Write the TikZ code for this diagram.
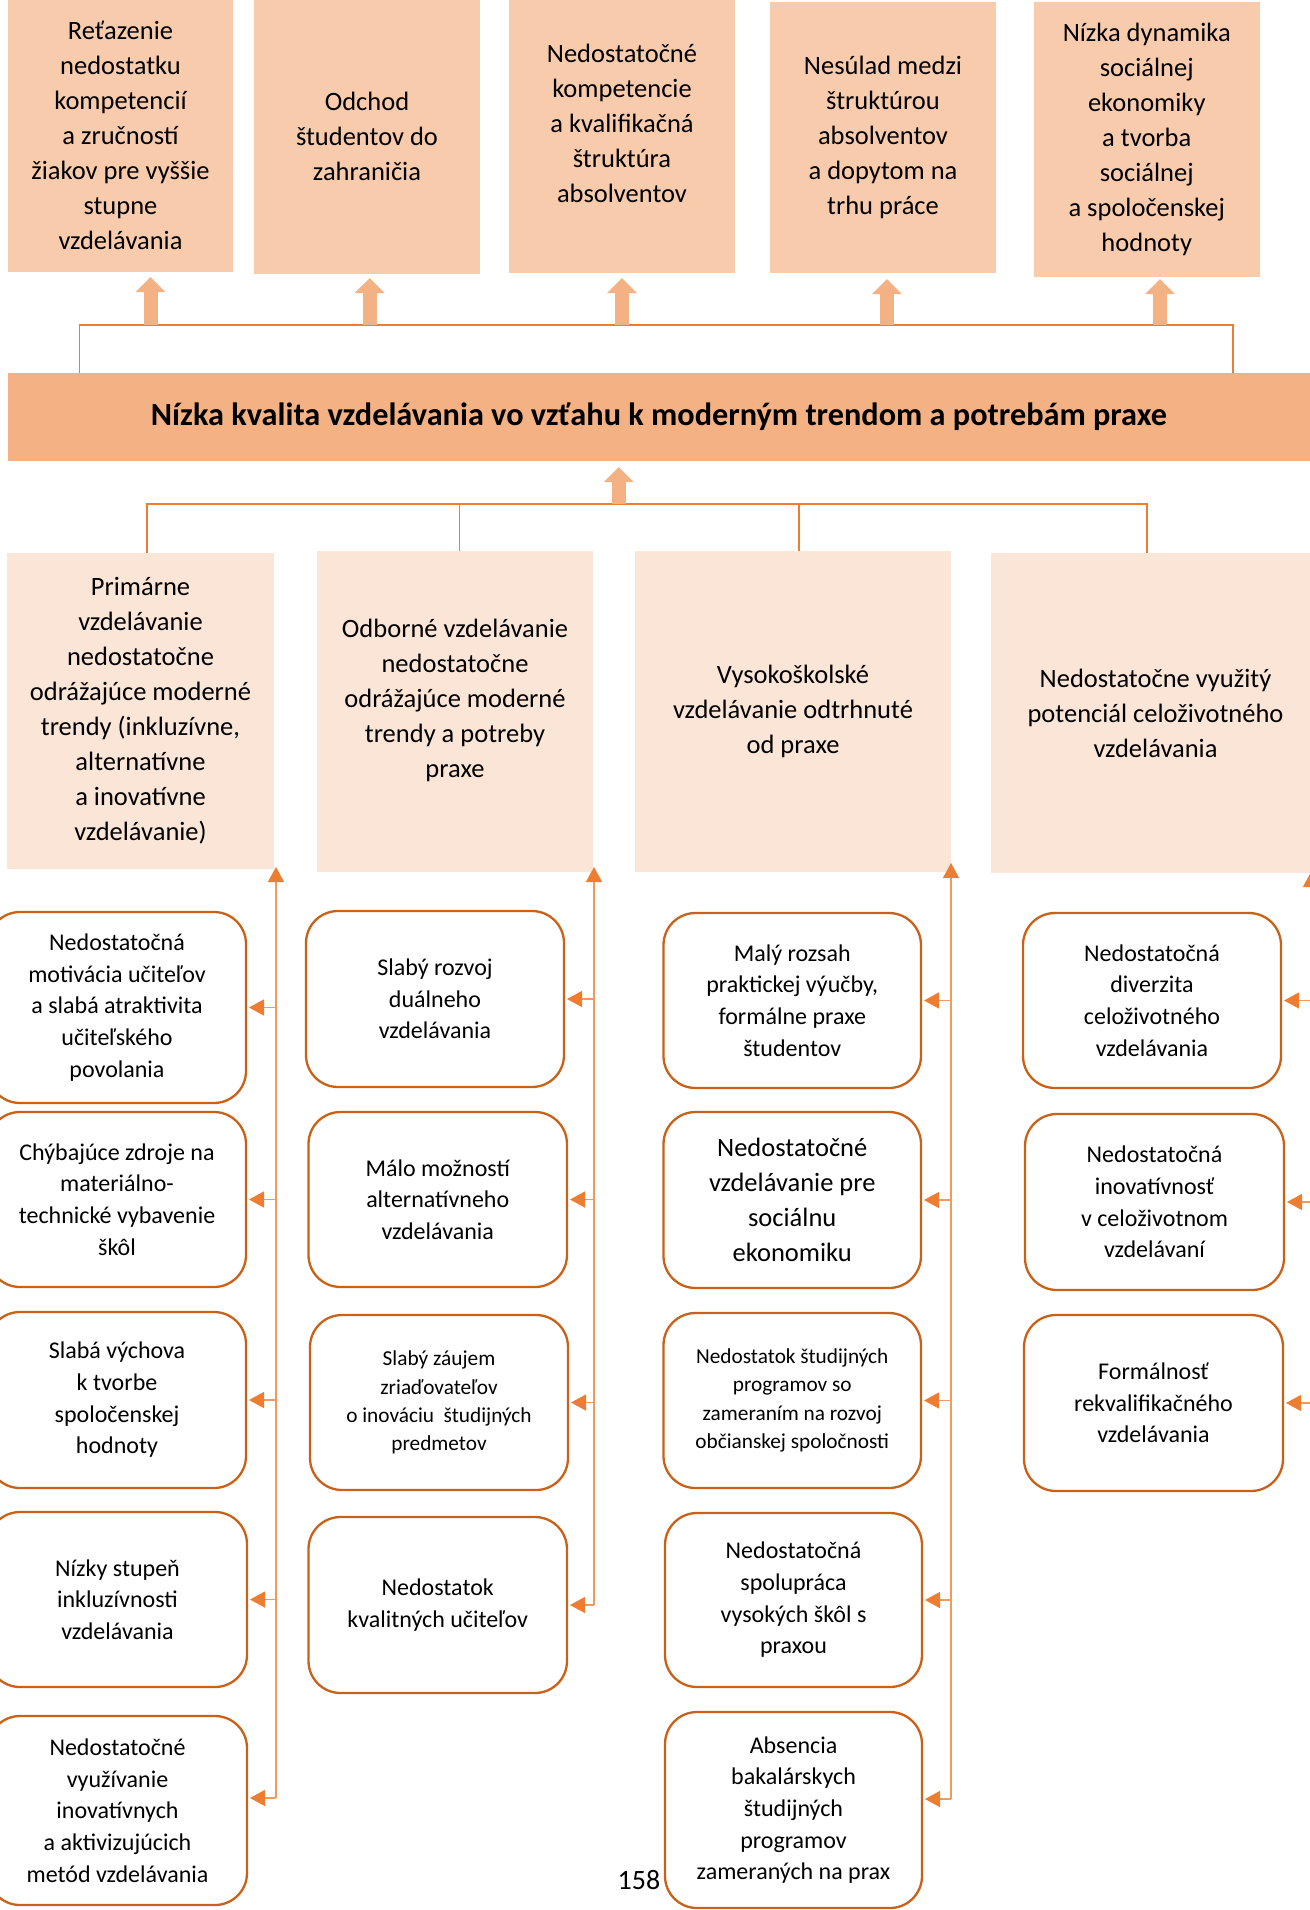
\documentclass[tikz,border=0pt]{standalone}
\usepackage{fontspec}
\setmainfont{Carlito}
\usetikzlibrary{arrows.meta,calc}
\definecolor{topfill}{HTML}{F8CBAD}
\definecolor{mainfill}{HTML}{F4B183}
\definecolor{lvltwo}{HTML}{FBE5D6}
\definecolor{accent}{HTML}{ED7D31}
\definecolor{linec}{HTML}{F09A5E}
\definecolor{border}{HTML}{C96218}
\tikzset{
  box/.style={inner sep=0pt, outer sep=0pt, align=center, text=black},
  topbox/.style={box, fill=topfill, font=\fontsize{26.5}{35}\selectfont},
  mainbox/.style={box, fill=mainfill, font=\bfseries\fontsize{32.3}{38}\selectfont},
  midbox/.style={box, fill=lvltwo, font=\fontsize{26.5}{35}\selectfont},
  leafbox/.style={box, draw=border, line width=2.3pt, fill=white, rounded corners=32pt, font=\fontsize{24}{31.7}\selectfont},
  smalltext/.style={font=\fontsize{21.3}{28.3}\selectfont},
  bigtext/.style={font=\fontsize{26.5}{35}\selectfont},
  link/.style={draw=accent, line width=1.4pt},
  fat/.style={draw=mainfill, line width=14pt, -{Triangle[width=29pt,length=15pt]}},
  colline/.style={draw=linec, line width=1.4pt, arrows={-{Triangle[width=16pt,length=15pt,color=accent]}}},
  sidearr/.style={draw=linec, line width=1.4pt, shorten >=3pt, arrows={-{Triangle[width=16pt,length=15pt,color=accent]}}}
}
\newcommand\mkbox[7]{\node[#1, minimum width={#4-(#3)}, minimum height={#6-(#5)}] (#2) at ({(#3+#4)/2},{(#5+#6)/2}) {#7};}
\begin{document}
\begin{tikzpicture}[x=1pt,y=-1pt]
\useasboundingbox (0,0) rectangle (1309,1910);
% top row
\mkbox{topbox}{t1}{8}{233}{-2}{272}{Reťazenie\\nedostatku\\kompetencií\\a zručností\\žiakov pre vyššie\\stupne\\vzdelávania}
\mkbox{topbox}{t2}{254}{480}{-2}{274}{Odchod\\študentov do\\zahraničia}
\mkbox{topbox}{t3}{509}{735}{-2}{273}{Nedostatočné\\kompetencie\\a kvalifikačná\\štruktúra\\absolventov\\[-10pt]\mbox{}}
\mkbox{topbox}{t4}{770}{996}{2}{273}{Nesúlad medzi\\štruktúrou\\absolventov\\a dopytom na\\trhu práce}
\mkbox{topbox}{t5}{1034}{1259.5}{2}{277}{Nízka dynamika\\sociálnej\\ekonomiky\\a tvorba\\sociálnej\\a spoločenskej\\hodnoty}
% main
\mkbox{mainbox}{m}{8}{1310}{373}{461}{Nízka kvalita vzdelávania vo vzťahu k moderným trendom a potrebám praxe}
% level 2
\mkbox{midbox}{b1}{7}{274}{553}{869}{Primárne\\vzdelávanie\\nedostatočne\\odrážajúce moderné\\trendy (inkluzívne,\\alternatívne\\a inovatívne\\vzdelávanie)}
\mkbox{midbox}{b2}{317}{593}{551}{872}{Odborné vzdelávanie\\nedostatočne\\odrážajúce moderné\\trendy a potreby\\praxe\\[-8pt]\mbox{}}
\mkbox{midbox}{b3}{635}{951}{551}{872}{Vysokoškolské\\vzdelávanie odtrhnuté\\od praxe}
\mkbox{midbox}{b4}{991}{1320}{553}{873}{Nedostatočne využitý\\potenciál celoživotného\\vzdelávania}
% level 3, column 1
\mkbox{leafbox}{c11}{-12}{246}{912}{1103}{Nedostatočná\\motivácia učiteľov\\a slabá atraktivita\\učiteľského\\povolania}
\mkbox{leafbox}{c12}{-12}{246}{1112}{1287}{Chýbajúce zdroje na\\materiálno-\\technické vybavenie\\škôl}
\mkbox{leafbox}{c13}{-12}{246}{1312}{1488}{Slabá výchova\\k tvorbe\\spoločenskej\\hodnoty}
\mkbox{leafbox}{c14}{-12}{247}{1512}{1687}{Nízky stupeň\\inkluzívnosti\\vzdelávania}
\mkbox{leafbox}{c15}{-12}{247}{1716}{1905}{Nedostatočné\\využívanie\\inovatívnych\\a aktivizujúcich\\metód vzdelávania}
% column 2
\mkbox{leafbox}{c21}{306}{564}{911}{1087}{Slabý rozvoj\\duálneho\\vzdelávania}
\mkbox{leafbox}{c22}{308.5}{567}{1112}{1287}{Málo možností\\alternatívneho\\vzdelávania}
\mkbox{leafbox,smalltext}{c23}{310}{568}{1315}{1490}{Slabý záujem\\zriaďovateľov\\o inováciu\ \ študijných\\predmetov}
\mkbox{leafbox}{c24}{308.5}{567}{1517}{1693}{Nedostatok\\kvalitných učiteľov}
% column 3
\mkbox{leafbox}{c31}{663.5}{921}{913}{1088}{Malý rozsah\\praktickej výučby,\\formálne praxe\\študentov}
\mkbox{leafbox,bigtext}{c32}{663.5}{921}{1112}{1288}{Nedostatočné\\vzdelávanie pre\\sociálnu\\ekonomiku}
\mkbox{leafbox,smalltext}{c33}{663.5}{921}{1313}{1488}{Nedostatok študijných\\programov so\\zameraním na rozvoj\\občianskej spoločnosti}
\mkbox{leafbox}{c34}{665}{922}{1513}{1687}{Nedostatočná\\spolupráca\\vysokých škôl s\\praxou}
\mkbox{leafbox}{c35}{665}{922}{1712}{1908}{Absencia\\bakalárskych\\študijných\\programov\\zameraných na prax}
% column 4
\mkbox{leafbox}{c41}{1023}{1281}{913}{1088}{Nedostatočná\\diverzita\\celoživotného\\vzdelávania}
\mkbox{leafbox}{c42}{1025}{1284}{1114}{1290}{Nedostatočná\\inovatívnosť\\v celoživotnom\\vzdelávaní}
\mkbox{leafbox}{c43}{1024}{1283}{1315}{1491}{Formálnosť\\rekvalifikačného\\vzdelávania}
% page number
\node[box, font=\fontsize{28}{34}\selectfont] (pg) at (639,1880) {158};

% top bracket and fat arrows
\coordinate (tl) at (79.5,325);
\coordinate (tr) at (1233,325);
\draw[link] (tl |- m.north) -- (tl) -- (tr) -- (tr |- m.north);
\coordinate (a1) at (150.5,325);
\coordinate (a2) at (369.7,325);
\coordinate (a3) at (622,325);
\coordinate (a4) at (887,325);
\coordinate (a5) at (1160,325);
\draw[fat, shorten >=5pt] (a1) -- (a1 |- t1.south);
\draw[fat, shorten >=4pt] (a2) -- (a2 |- t2.south);
\draw[fat, shorten >=5pt] (a3) -- (a3 |- t3.south);
\draw[fat, shorten >=6pt] (a4) -- (a4 |- t4.south);
\draw[fat, shorten >=2pt] (a5) -- (a5 |- t5.south);

% level-2 bracket and main arrow
\coordinate (bl) at (147,504);
\coordinate (br) at (1147,504);
\coordinate (bm2) at (459.6,504);
\coordinate (bm3) at (799,504);
\coordinate (ma) at (618.7,504);
\draw[link] (bl |- b1.north) -- (bl) -- (br) -- (br |- b4.north);
\draw[link] (bm2) -- (bm2 |- b2.north);
\draw[link] (bm3) -- (bm3 |- b3.north);
\draw[fat, shorten >=6pt] (ma) -- (ma |- m.south);

% column connectors
\coordinate (v1t) at (276,867);
\coordinate (v1b) at (276,1798);
\coordinate (v2t) at (594,867);
\coordinate (v2b) at (594,1605);
\coordinate (v3t) at (951,863);
\coordinate (v3b) at (951,1799);
\coordinate (v4t) at (1311,872);
\coordinate (v4b) at (1311,1400);
\draw[colline] (v1b) -- (v1t);
\draw[colline] (v2b) -- (v2t);
\draw[colline] (v3b) -- (v3t);
\draw[colline] (v4b) -- (v4t);

\foreach \n in {c11,c12,c13,c14}{\draw[sidearr] (v1t |- \n.east) -- (\n.east);}
\draw[sidearr] (v1b) -- (v1b -| c15.east);
\foreach \n in {c21,c22,c23,c24}{\draw[sidearr] (v2t |- \n.east) -- (\n.east);}
\foreach \n in {c31,c32,c33,c34}{\draw[sidearr] (v3t |- \n.east) -- (\n.east);}
\draw[sidearr] (v3b) -- (v3b -| c35.east);
\foreach \n in {c41,c42,c43}{\draw[sidearr] (v4t |- \n.east) -- (\n.east);}
\end{tikzpicture}
\end{document}
